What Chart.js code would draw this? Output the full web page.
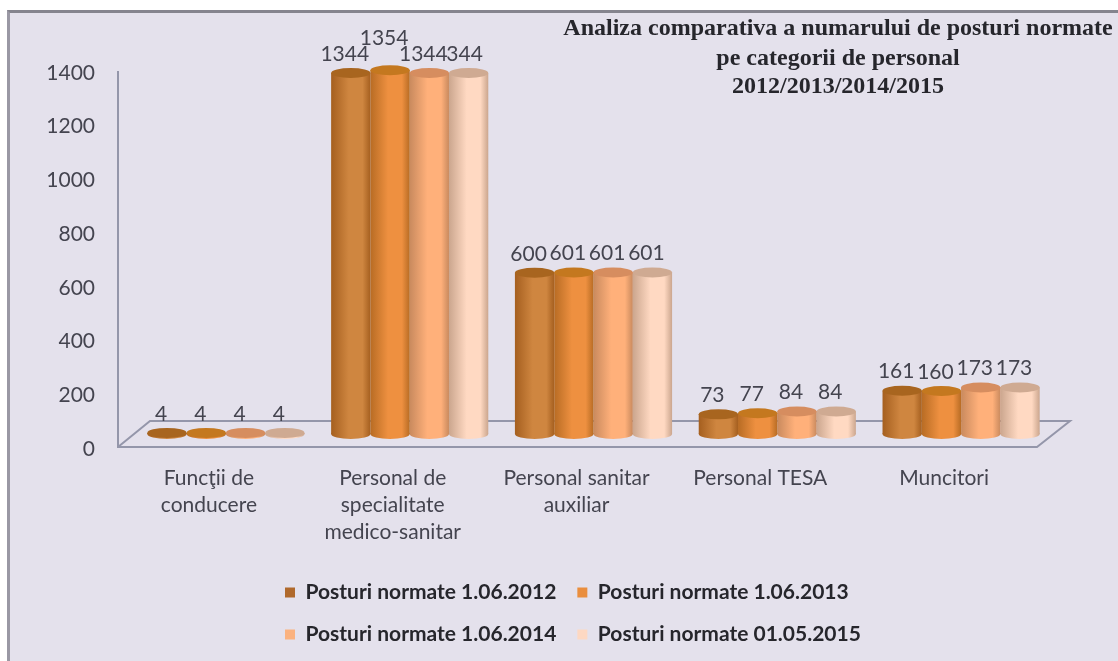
<!DOCTYPE html>
<html lang="ro">
<head>
  <meta charset="UTF-8" />
  <title>Analiza comparativa a numarului de posturi normate</title>
  <script src="https://cdn.jsdelivr.net/npm/chart.js@4.4.1/dist/chart.umd.min.js"></script>
  <style>
    html, body { margin: 0; background: #fff; }
    #panel { position: absolute; left: 7px; top: 10px; width: 1111px; height: 651px; box-sizing: border-box;
             background: #e4e1ec; border-left: 3px solid #9a98a4; border-top: 3px solid #85848e; }
    #wrap { position: absolute; left: 0; top: 0; width: 1118px; height: 661px; }
  </style>
</head>
<body>
  <div id="panel"></div>
  <div id="wrap"><canvas id="chart" width="1118" height="661"></canvas></div>

  <script>
    const categories = [
      ['Funcţii de', 'conducere'],
      ['Personal de', 'specialitate', 'medico-sanitar'],
      ['Personal sanitar', 'auxiliar'],
      'Personal TESA',
      'Muncitori'
    ];
    const seriesNames = ['Posturi normate 1.06.2012', 'Posturi normate 1.06.2013', 'Posturi normate 1.06.2014', 'Posturi normate 01.05.2015'];
    const posturi2012 = [4, 1344, 600, 73, 161];
    const posturi2013 = [4, 1354, 601, 77, 160];
    const posturi2014 = [4, 1344, 601, 84, 173];
    const posturi2015 = [4, 1344, 601, 84, 173];
    const seriesValues = [posturi2012, posturi2013, posturi2014, posturi2015];
    const titleLines = ['Analiza comparativa a numarului de posturi normate', 'pe categorii de personal', '2012/2013/2014/2015'];

    // colours per series: edge, middle of the cylinder, top cap, legend
    const edgeColors = ['#a55f1f', '#b86c24', '#c98a5e', '#cba68e'];
    const midColors = ['#cf8640', '#ee9040', '#ffb07a', '#ffd9c2'];
    const capColors = ['#a8651f', '#c4781f', '#d68d5f', '#cfaa92'];
    const legendColors = ['#b0692c', '#ea8e3e', '#fbb27f', '#fdd8c2'];

    const CAT_PERCENT = 0.855;
    const CAP_RY = 5;
    const textColor = '#44444f';

    Chart.defaults.font.family = 'Lato, sans-serif';
    Chart.defaults.animation = false;

    function cylinderFill(context) {
      const ds = context.datasetIndex;
      if (context.dataIndex === undefined) return legendColors[ds];
      const xs = context.chart.scales.x;
      const barW = xs.width / categories.length * CAT_PERCENT / 4;
      const left = xs.getPixelForValue(context.dataIndex) - 2 * barW + ds * barW;
      if (!Number.isFinite(left)) return legendColors[ds]; // scale not laid out yet
      const g = context.chart.ctx.createLinearGradient(left, 0, left + barW, 0);
      g.addColorStop(0, edgeColors[ds]);
      g.addColorStop(0.45, midColors[ds]);
      g.addColorStop(0.8, midColors[ds]);
      g.addColorStop(1, edgeColors[ds]);
      return g;
    }

    function ellipse(ctx, bar, y, color) {
      ctx.beginPath();
      ctx.ellipse(bar.x, y, bar.width / 2, CAP_RY, 0, 0, Math.PI * 2);
      ctx.fillStyle = color;
      ctx.fill();
    }

    const cylinders = {
      id: 'cylinders',
      afterLayout(chart) {
        // both legend rows start on the same x, as in the picture
        chart.legend.left = 264;
        chart.legend.top = 561;
      },
      beforeDatasetsDraw(chart) {
        // floor and wall of the 3d box
        const { ctx, chartArea: a } = chart;
        const fl = a.left - 16, fr = a.right - 16, bl = a.left + 16, br = a.right + 17;
        const fy = a.bottom, by = a.bottom - 26;
        ctx.save();
        ctx.strokeStyle = '#9496aa';
        ctx.lineWidth = 2;
        ctx.beginPath();
        ctx.moveTo(fl, a.top);
        ctx.lineTo(fl, fy);
        ctx.lineTo(fr, fy);
        ctx.lineTo(br, by);
        ctx.lineTo(bl, by);
        ctx.lineTo(fl, fy);
        ctx.stroke();
        ctx.restore();
      },
      beforeDatasetDraw(chart, args) {
        args.meta.data.forEach(bar => ellipse(chart.ctx, bar, bar.base, bar.options.backgroundColor));
      },
      afterDatasetDraw(chart, args) {
        args.meta.data.forEach(bar => ellipse(chart.ctx, bar, bar.y, capColors[args.index]));
      },
      afterDatasetsDraw(chart) {
        const ctx = chart.ctx;
        ctx.save();
        ctx.fillStyle = textColor;
        ctx.font = '21px Lato, sans-serif';
        ctx.textAlign = 'center';
        ctx.textBaseline = 'middle';
        chart.data.datasets.forEach((ds, d) => {
          chart.getDatasetMeta(d).data.forEach((bar, i) => {
            // the 1354 label sits higher in the picture, and the last 1344 loses its first digit
            const lift = ds.data[i] === 1354 ? 27 : 14;
            const text = (d === 3 && i === 1) ? '344' : String(ds.data[i]);
            const nudge = text === '344' ? -4 : -6;
            ctx.fillText(text, bar.x + nudge, bar.y - CAP_RY - lift);
          });
        });
        ctx.fillStyle = '#26262c';
        ctx.font = 'bold 24px "Liberation Serif", serif';
        const cx = 838, ys = [29, 59, 87];
        titleLines.forEach((t, i) => ctx.fillText(t, cx, ys[i]));
        ctx.restore();
      }
    };

    new Chart(document.getElementById('chart'), {
      type: 'bar',
      data: {
        labels: categories,
        datasets: seriesValues.map((values, i) => ({
          label: seriesNames[i],
          data: values,
          yAxisID: 'yBars',
          backgroundColor: cylinderFill,
          borderWidth: 0,
          categoryPercentage: CAT_PERCENT,
          barPercentage: 1,
          clip: false
        }))
      },
      options: {
        responsive: false,
        layout: { padding: { top: 71, right: 65, left: 0, bottom: 0 } },
        scales: {
          x: {
            grid: { display: false, drawTicks: false },
            border: { display: false },
            ticks: { color: textColor, font: { size: 21, lineHeight: 1.29 }, padding: 18, labelOffset: -17, autoSkip: false, maxRotation: 0 },
            afterFit(scale) { scale.height = 120; }
          },
          y: {
            min: 0,
            max: 1400,
            grid: { display: false, drawTicks: false },
            border: { display: false },
            ticks: { stepSize: 200, color: textColor, font: { size: 21 }, padding: 39, labelOffset: 2, callback: v => String(v) },
            afterFit(scale) { scale.width = 134; }
          },
          // bars stand 13px in from the front of the floor, same px per unit as the y axis
          yBars: { display: false, min: -48.5, max: 1351.5 }
        },
        plugins: {
          title: { display: false },
          tooltip: { enabled: false },
          legend: {
            position: 'bottom',
            align: 'start',
            labels: {
              color: '#26262c',
              font: { size: 21, weight: 'bold' },
              boxWidth: 10,
              boxHeight: 10,
              padding: 21,
              // the default would hand the swatch the first bar's gradient
              generateLabels: chart => Chart.defaults.plugins.legend.labels.generateLabels(chart)
                .map((item, i) => ({ ...item, fillStyle: legendColors[i] }))
            }
          }
        }
      },
      plugins: [cylinders]
    });
  </script>
</body>
</html>
